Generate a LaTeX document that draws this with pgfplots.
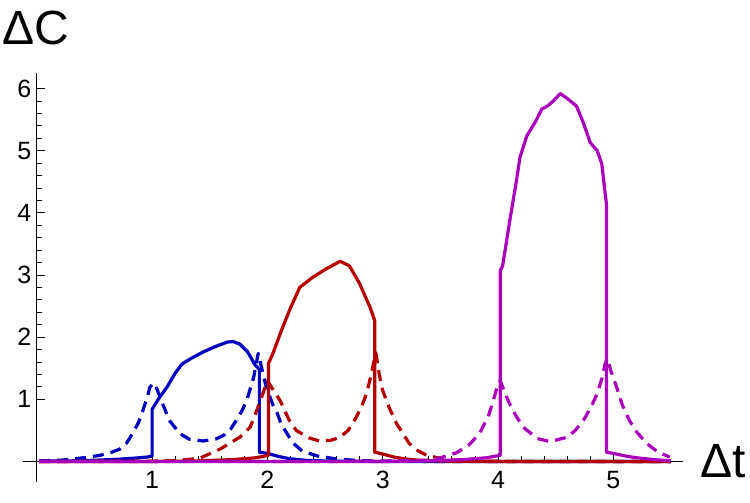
\documentclass[border=0pt]{standalone}
\usepackage{fontspec}
\setmainfont{Liberation Sans}
\usepackage{pgfplots}
\pgfplotsset{compat=1.18}

\definecolor{cblue}{RGB}{0,0,190}
\definecolor{cred}{RGB}{180,0,0}
\definecolor{cmag}{RGB}{170,0,187}

\begin{document}
\begin{tikzpicture}[x=1pt,y=1pt]
\path[use as bounding box] (0,0) rectangle (750,-503);
\begin{axis}[
  at={(23pt,-73pt)}, anchor=north west,
  scale only axis, width=659.5pt, height=409pt,
  axis lines=middle,
  xmin=-0.12, xmax=5.6, ymin=-0.33, ymax=6.25,
  xtick={1,2,3,4,5}, ytick={1,2,3,4,5,6},
  minor x tick num=4, minor y tick num=4,
  tick align=inside,
  major tick length=8pt, minor tick length=5pt,
  every tick/.style={black, line width=0.9pt},
  axis line style={black, line width=1pt, -},
  tick label style={font=\fontsize{25}{25}\selectfont},
  /pgf/number format/assume math mode=true,
  xticklabel style={yshift=-6pt},
  yticklabel style={xshift=-2pt},
  clip=false,
  every axis plot/.append style={line width=3.2pt, line join=round},
]
% blue pair
\addplot[cblue] coordinates {
 (0.02,0.005) (0.3,0.01) (0.5,0.02) (0.7,0.035) (0.85,0.055) (0.95,0.07) (1.0,0.085)
 (1.0,0.84) (1.06,1.02) (1.13,1.2) (1.2,1.42) (1.26,1.57) (1.34,1.66) (1.44,1.76) (1.55,1.85)
 (1.65,1.92) (1.70,1.93) (1.76,1.89) (1.83,1.76) (1.89,1.56) (1.93,1.48)
 (1.93,0.15) (2.0,0.13) (2.1,0.08) (2.19,0.045) (2.35,0.015) (2.6,0.005) (3.0,0) (5.5,0)};
\addplot[cblue, dash pattern=on 11pt off 7pt] coordinates {
 (0.02,0.01) (0.2,0.02) (0.31,0.04) (0.45,0.07) (0.55,0.1) (0.65,0.15) (0.72,0.2)
 (0.78,0.3) (0.83,0.45) (0.88,0.62) (0.92,0.82) (0.96,1.05) (0.98,1.19) (1.01,1.26)
 (1.03,1.22) (1.06,1.08) (1.09,0.93) (1.15,0.66) (1.24,0.45) (1.32,0.36) (1.44,0.33)
 (1.55,0.36) (1.62,0.42) (1.68,0.52) (1.73,0.66) (1.78,0.82) (1.82,0.98) (1.88,1.35)
 (1.92,1.74) (1.99,1.19) (2.05,0.9) (2.08,0.8) (2.12,0.6) (2.17,0.45) (2.22,0.3)
 (2.3,0.17) (2.43,0.09) (2.6,0.04) (2.8,0.015) (3.0,0.005) (3.5,0) (5.5,0)};
% red pair
\addplot[cred] coordinates {
 (0.02,0) (1.0,0) (1.4,0.01) (1.7,0.03) (1.9,0.06) (2.01,0.1)
 (2.01,1.58) (2.05,1.75) (2.12,2.1) (2.2,2.47) (2.28,2.8) (2.39,2.96) (2.51,3.1)
 (2.63,3.22) (2.71,3.15) (2.8,2.86) (2.89,2.48) (2.93,2.27)
 (2.93,0.15) (3.0,0.12) (3.1,0.07) (3.2,0.04) (3.35,0.015) (3.6,0.005) (4.0,0) (5.5,0)};
\addplot[cred, dash pattern=on 11pt off 7pt] coordinates {
 (0.02,0) (1.0,0.005) (1.2,0.015) (1.41,0.05) (1.59,0.2) (1.76,0.39) (1.85,0.55)
 (1.93,0.93) (1.99,1.25) (2.0,1.3) (2.04,1.18) (2.11,0.98) (2.19,0.66) (2.25,0.5)
 (2.36,0.38) (2.45,0.33) (2.55,0.34) (2.63,0.39) (2.7,0.5) (2.77,0.71) (2.82,0.9)
 (2.86,1.09) (2.9,1.4) (2.94,1.75) (2.97,1.4) (3.0,1.14) (3.06,0.85) (3.12,0.61)
 (3.23,0.29) (3.3,0.18) (3.38,0.1) (3.55,0.03) (3.8,0.005) (4.2,0) (5.5,0)};
% magenta pair
\addplot[cmag] coordinates {
 (0.02,0) (3.0,0) (3.4,0.01) (3.7,0.03) (3.9,0.06) (4.02,0.1)
 (4.02,3.07) (4.04,3.15) (4.1,3.85) (4.16,4.52) (4.19,4.89) (4.25,5.24) (4.32,5.45)
 (4.38,5.67) (4.43,5.72) (4.48,5.8) (4.54,5.92) (4.6,5.84) (4.68,5.72) (4.74,5.45)
 (4.8,5.13) (4.86,5.0) (4.9,4.79) (4.93,4.3) (4.94,4.15)
 (4.94,0.15) (5.0,0.13) (5.1,0.09) (5.2,0.06) (5.35,0.03) (5.5,0.01)};
\addplot[cmag, dash pattern=on 11pt off 7pt] coordinates {
 (0.02,0) (2.5,0) (3.0,0.005) (3.38,0.02) (3.5,0.06) (3.64,0.14) (3.75,0.27)
 (3.84,0.45) (3.92,0.75) (3.97,1.05) (4.0,1.25) (4.02,1.3) (4.06,1.1) (4.1,0.93)
 (4.16,0.72) (4.22,0.55) (4.34,0.37) (4.45,0.32) (4.6,0.39) (4.67,0.5) (4.74,0.66)
 (4.8,0.85) (4.86,1.09) (4.9,1.33) (4.93,1.58) (4.95,1.65) (4.98,1.45) (5.03,1.19)
 (5.08,0.9) (5.14,0.66) (5.2,0.48) (5.29,0.29) (5.38,0.16) (5.49,0.07)};
\end{axis}
\node[font=\fontsize{48}{48}\selectfont, inner sep=0pt] at (36,-28) {ΔC};
\node[font=\fontsize{48}{48}\selectfont, inner sep=0pt, anchor=base west] at (700,-477) {Δt};
\end{tikzpicture}
\end{document}
